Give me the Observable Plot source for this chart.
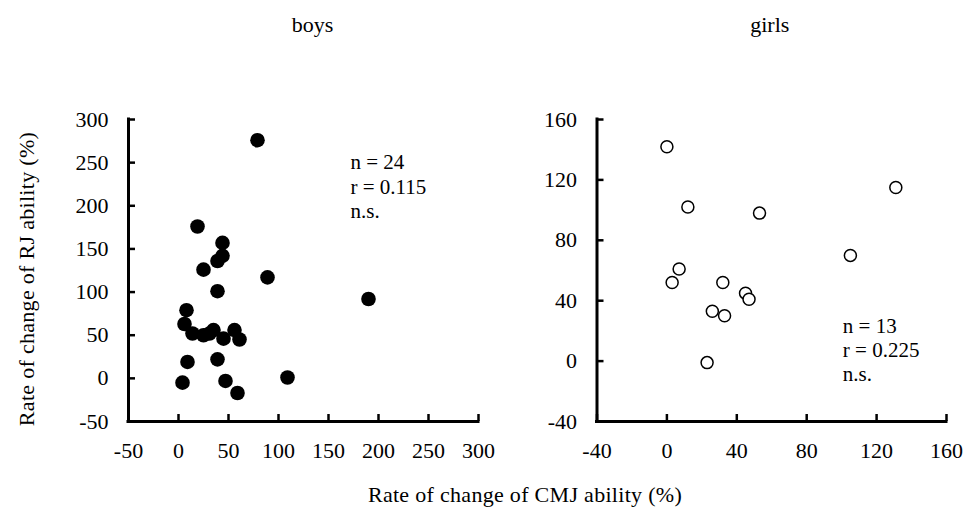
<!DOCTYPE html>
<html>
<head>
<meta charset="utf-8">
<script src="https://cdn.jsdelivr.net/npm/d3@7"></script>
<script src="https://cdn.jsdelivr.net/npm/@observablehq/plot@0.6"></script>
<style>
  html, body { margin: 0; padding: 0; background: #fff; }
  #chart { position: relative; width: 968px; height: 510px; overflow: hidden; font-family: "Liberation Serif", "Times New Roman", serif; }
  #chart > svg { position: absolute; top: 0; }
  .axis-title { position: absolute; font-size: 22px; line-height: 22px; letter-spacing: 0.3px; white-space: nowrap; color: #000; }
  .axis-title.x { transform: translateX(-50%); }
  .axis-title.y { transform: translate(-50%, -50%) rotate(-90deg); }
</style>
</head>
<body>
<div id="chart"></div>
<script>
// Rate of change (%) of CMJ and RJ ability, one entry per child
const boysCMJ = [79, 19, 44, 44, 39, 25, 89, 39, 190, 8, 6, 14, 25, 31, 35, 45, 56, 61, 9, 39, 4, 47, 59, 109];
const boysRJ  = [276, 176, 157, 142, 136, 126, 117, 101, 92, 79, 63, 52, 50, 52, 56, 46, 56, 45, 19, 22, -5, -3, -17, 1];

const girlsCMJ = [0, 131, 12, 53, 105, 7, 3, 32, 45, 47, 26, 33, 23];
const girlsRJ  = [142, 115, 102, 98, 70, 61, 52, 52, 45, 41, 33, 30, -1];

// Tick values
const boysXTicks = [-50, 0, 50, 100, 150, 200, 250, 300];
const boysYTicks = [-50, 0, 50, 100, 150, 200, 250, 300];
const girlsXTicks = [-40, 0, 40, 80, 120, 160];
const girlsYTicks = [-40, 0, 40, 80, 120, 160];

// Panel titles and correlation summaries
const panelTitles = ["boys", "girls"];
const boysStats = ["n = 24", "r = 0.115", "n.s."];
const girlsStats = ["n = 13", "r = 0.225", "n.s."];

const yTitle = "Rate of change of RJ ability (%)";
const xTitle = "Rate of change of CMJ ability (%)";

const FONT = "'Liberation Serif', 'Times New Roman', serif";
const HEIGHT = 510, MT = 119, MB = 89;

function panel({cmj, rj, xTicks, yTicks, width, marginLeft, marginRight, title, titleDx, stats, statsAt, dot}) {
  const rows = cmj.map((x, i) => ({cmj: x, rj: rj[i]}));
  const frameW = width - marginLeft - marginRight;
  const frameH = HEIGHT - MT - MB;
  const xDom = [xTicks[0], xTicks[xTicks.length - 1]];
  const yDom = [yTicks[0], yTicks[yTicks.length - 1]];
  const fmt = d => String(d);
  return Plot.plot({
    width, height: HEIGHT,
    marginTop: MT, marginBottom: MB, marginLeft, marginRight,
    x: {domain: xDom, label: null},
    y: {domain: yDom, label: null},
    style: {fontFamily: FONT, fontSize: "22px", color: "#000", background: "transparent", overflow: "visible"},
    marks: [
      // inward tick stubs
      Plot.tickX(xTicks, {x: d => d, insetTop: frameH - 7, stroke: "#000", strokeWidth: 2.5}),
      Plot.tickY(yTicks, {y: d => d, insetRight: frameW - 7, stroke: "#000", strokeWidth: 2.5}),
      // axis lines
      Plot.ruleY([yDom[0]], {stroke: "#000", strokeWidth: 3, strokeLinecap: "square"}),
      Plot.ruleX([xDom[0]], {stroke: "#000", strokeWidth: 3, strokeLinecap: "square"}),
      Plot.axisX(xTicks, {tickSize: 0, tickPadding: 21, tickFormat: fmt, label: null, fill: "#000"}),
      Plot.axisY(yTicks, {tickSize: 0, tickPadding: 20, tickFormat: fmt, label: null, fill: "#000"}),
      Plot.dot(rows, {x: "cmj", y: "rj", ...dot}),
      Plot.text([stats.join("\n")], {
        x: statsAt[0], y: statsAt[1], text: d => d, fontSize: 21,
        textAnchor: "start", lineAnchor: "top", lineHeight: 1.15, fill: "#000"
      }),
      Plot.text([title], {frameAnchor: "top", text: d => d, lineAnchor: "bottom", dx: titleDx, dy: 31 - MT, fill: "#000"})
    ]
  });
}

const chart = document.getElementById("chart");

const left = panel({
  cmj: boysCMJ, rj: boysRJ, xTicks: boysXTicks, yTicks: boysYTicks,
  width: 490, marginLeft: 128, marginRight: 12,
  title: panelTitles[0], titleDx: 9,
  stats: boysStats, statsAt: [172, 262],
  dot: {r: 7.3, fill: "#000", stroke: "none"}
});
left.style.left = "0px";
chart.appendChild(left);

const right = panel({
  cmj: girlsCMJ, rj: girlsRJ, xTicks: girlsXTicks, yTicks: girlsYTicks,
  width: 478, marginLeft: 106.5, marginRight: 22,
  title: panelTitles[1], titleDx: -2,
  stats: girlsStats, statsAt: [100.7, 30],
  dot: {r: 6, fill: "#fff", stroke: "#000", strokeWidth: 1.5}
});
right.style.left = "490px";
chart.appendChild(right);

const xl = document.createElement("div");
xl.className = "axis-title x";
xl.textContent = xTitle;
xl.style.left = "525px";
xl.style.top = "484px";
chart.appendChild(xl);

const yl = document.createElement("div");
yl.className = "axis-title y";
yl.textContent = yTitle;
yl.style.left = "27px";
yl.style.top = "279px";
chart.appendChild(yl);
</script>
</body>
</html>
